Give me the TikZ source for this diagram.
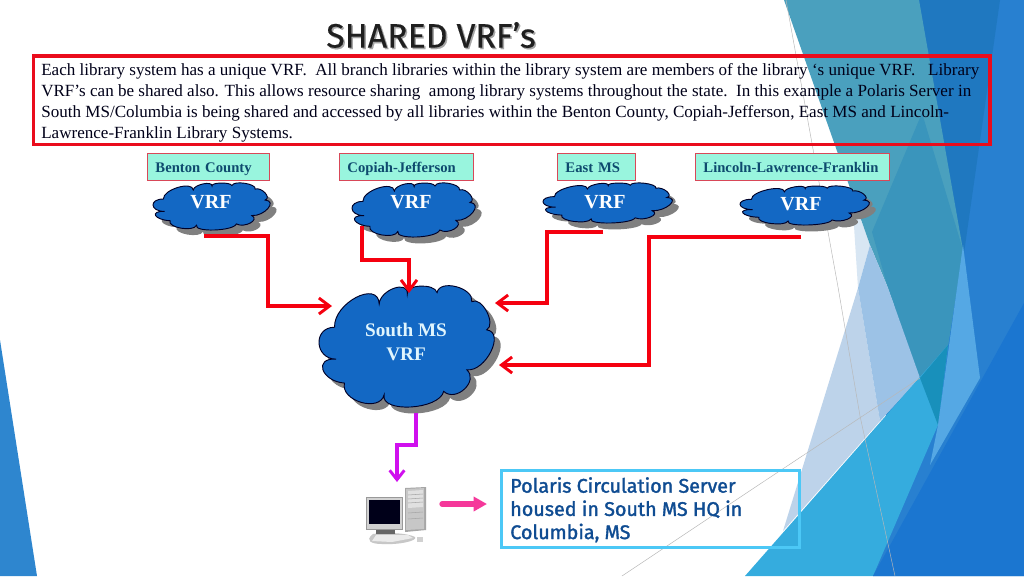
\documentclass[tikz,border=0pt]{standalone}
\usepackage{fontspec}
\setmainfont{Liberation Serif}
\newfontfamily\titlefont[FakeBold=0.3]{Fira Sans}
\newfontfamily\uifont[FakeBold=1.6]{Fira Sans}
\usetikzlibrary{arrows.meta,calc}
\definecolor{cloudblue}{HTML}{1368C4}
\definecolor{labelfill}{HTML}{99F5DE}
\definecolor{labeltext}{HTML}{0E4A6E}
\definecolor{labeledge}{HTML}{D84858}
\definecolor{flowred}{HTML}{F5000F}
\definecolor{boxred}{HTML}{EA0C1C}
\definecolor{flowpurple}{HTML}{D010EE}
\definecolor{flowpink}{HTML}{F5389A}
\definecolor{calloutedge}{HTML}{4CC8F6}
\definecolor{callouttext}{HTML}{0F4C92}
\definecolor{bgleft}{HTML}{2E86CF}
\definecolor{bgteal}{HTML}{4AA0BE}
\definecolor{bgtealb}{HTML}{3A95BC}
\definecolor{bgdeep}{HTML}{1F78C0}
\definecolor{bgright}{HTML}{2880D0}
\definecolor{bgspike}{HTML}{55A8E4}
\definecolor{bgbottom}{HTML}{1B76D0}
\definecolor{bgcyan}{HTML}{35ACDE}
\definecolor{bgcyand}{HTML}{1890BB}
\definecolor{bglight}{HTML}{BDD3EA}
\definecolor{bglightb}{HTML}{9CC2E6}
\definecolor{bgpale}{HTML}{D8E6F3}
\newcommand\cloudoutline{(47,124)
  .. controls (44,51) and (179,-19) .. (182,54)
  .. controls (185,11) and (270,-19) .. (267,24)
  .. controls (260,-5) and (350,-9) .. (357,20)
  .. controls (364,-22) and (469,5) .. (462,47)
  .. controls (492,30) and (537,115) .. (507,132)
  .. controls (564,139) and (504,259) .. (447,252)
  .. controls (484,286) and (414,351) .. (377,317)
  .. controls (364,373) and (184,383) .. (197,327)
  .. controls (184,381) and (64,346) .. (77,292)
  .. controls (7,287) and (-18,215) .. (52,220)
  .. controls (-14,220) and (-19,124) .. (47,124) -- cycle}
\newcommand\bluecloud[4]{%
  \begin{scope}[shift={(#1,#2)},x={0.75pt*(#3-#1)/520},y={-0.75pt*(#4-#2)/364}]
    \path[fill=black!50,xshift=4.8pt,yshift=-4.8pt] \cloudoutline;
    \path[fill=cloudblue,draw=black!85!blue,line width=0.7pt] \cloudoutline;
  \end{scope}}
\tikzset{
  x=0.75pt,y=-0.75pt,
  vrftext/.style={text=white,font=\bfseries\fontsize{15}{17}\selectfont,inner sep=0pt},
  sitebox/.style={draw=labeledge,line width=0.7pt,fill=labelfill,text=labeltext,font=\bfseries\fontsize{11}{13}\selectfont,minimum height=20pt,inner xsep=6pt,inner ysep=0pt,text height=10.5pt,text depth=2.5pt,align=left,anchor=north west},
  redflow/.style={draw=flowred,line width=2.4pt,-{Straight Barb[length=8pt,width=12pt,line width=2.2pt]}},
  purpleflow/.style={draw=flowpurple,line width=2.4pt,-{Straight Barb[length=7pt,width=11pt,line width=2.2pt]}},
  pinkflow/.style={draw=flowpink,line width=4pt,line cap=round,-{Triangle[length=10pt,width=10.5pt]}},
  ghost/.style={draw=black!28,line width=0.35pt},
}
\begin{document}
\begin{tikzpicture}
\useasboundingbox (0,0) rectangle (1024,576);
% background
\fill[white] (0,0) rectangle (1024,576);
\fill[bgleft] (0,340) -- (37,576) -- (0,576) -- cycle;
\fill[bgright] (919,0) -- (1024,0) -- (1024,576) -- (873,576) -- cycle;
\fill[bgdeep] (919,0) -- (1000,0) -- (963,260) -- cycle;
\fill[bgpale] (852,195) -- (870,245) -- (858,288) -- cycle;
\fill[bgteal] (784,0) -- (919,0) -- (963,250) -- (948,345) -- (920,378) -- (888,288) -- (870,245) -- cycle;
\fill[bgtealb] (922,113) -- (963,250) -- (948,345) -- (920,378) -- (888,288) -- (872,232) -- cycle;
\fill[bglight] (858,288) -- (783,531) -- (880,421) -- cycle;
\fill[bglightb] (870,245) -- (888,288) -- (920,378) -- (880,421) -- (858,288) -- cycle;
\fill[bgcyan] (745,576) -- (948,345) -- (938,425) -- (873,576) -- cycle;
\fill[bgcyand] (920,378) -- (948,345) -- (938,425) -- cycle;
\fill[bgspike] (963,245) -- (980,378) -- (930,465) -- (938,425) -- cycle;
\fill[bgbottom] (873,576) -- (1024,303) -- (1024,576) -- cycle;
\draw[ghost] (786,0) -- (838,287) -- (860,416) -- (895,576);
\draw[ghost] (622,576) -- (760,484) -- (920,378);
% title
\node[font=\titlefont\fontsize{25.4}{28}\selectfont,text=black!35,inner sep=0pt] (titleshadow) at (432.5,36.5) {SHARED VRF’s};
\node[font=\titlefont\fontsize{25.4}{28}\selectfont,text=black!88,inner sep=0pt] (title) at (431,35) {SHARED VRF’s};
% description
\node[draw=boxred,line width=2.8pt,minimum width=717.4pt,minimum height=66.5pt,anchor=north west,inner sep=0pt] (desc) at (31.5,54) {};
\node[anchor=north west,inner sep=0pt,align=left,text=black!90!blue,font=\fontsize{12.8}{15.75}\selectfont] (desctext) at (41,63.5)
 {Each library system has a unique VRF.\ \ All branch libraries within the library system are members of the library ‘s unique VRF.\ \ \ Library\\
  VRF’s can be shared also. This allows resource sharing\ \ among library systems throughout the state.\ \ In this example a Polaris Server in\\
  South MS/Columbia is being shared and accessed by all libraries within the Benton County, Copiah-Jefferson, East MS and Lincoln-\\
  Lawrence-Franklin Library Systems.};
% site labels
\node[sitebox,minimum width=91.5pt,text width=79.5pt] (benton) at (147,153) {\mbox{Benton County}};
\node[sitebox,minimum width=100.5pt,text width=88.5pt] (copiah) at (339,153) {\mbox{Copiah-Jefferson}};
\node[sitebox,minimum width=58.5pt,text width=46.5pt] (east) at (557,153) {\mbox{East MS}};
\node[sitebox,minimum width=145.5pt,text width=133.5pt] (lincoln) at (695,153) {\mbox{Lincoln-Lawrence-Franklin}};
% clouds
\bluecloud{153}{183}{268}{230}
\bluecloud{352}{183}{473}{237}
\bluecloud{543}{183}{670}{223}
\bluecloud{740}{186}{867}{225}
\bluecloud{319}{286}{491}{407}
\node[vrftext] (c1t) at (211,202) {VRF};
\node[vrftext] (c2t) at (411,202) {VRF};
\node[vrftext] (c3t) at (605,202) {VRF};
\node[vrftext] (c4t) at (801,204) {VRF};
\node[text=white!88!cyan,font=\bfseries\fontsize{14.4}{17.5}\selectfont,align=center,inner sep=0pt] (southt) at (406,342) {South MS\\VRF};
% connectors
\coordinate (s1) at (204,236); \coordinate (e1) at (332,306);
\coordinate (s2) at (362,226); \coordinate (e2) at (409,293);
\coordinate (s3) at (603,232); \coordinate (e3) at (495,303);
\coordinate (s4) at (801,237); \coordinate (e4) at (499,365);
\draw[redflow] (s1) -- (268,236) -- (268,306) -- (e1);
\draw[redflow] (s2) -- (362,260) -- (409,260) -- (e2);
\draw[redflow] (s3) -- (547,232) -- (547,303) -- (e3);
\draw[redflow] (s4) -- (649,237) -- (649,365) -- (e4);
\coordinate (s5) at (416,413); \coordinate (e5) at (397,482);
\draw[purpleflow] (s5) -- (416,445) -- (397,445) -- (e5);
% computer
\fill[black!35] (405,488) -- (426,487) -- (426,530) -- (405,532) -- cycle;
\fill[black!22] (406,489) -- (424,488) -- (424,529) -- (406,530) -- cycle;
\fill[black!12] (408,491) -- (423,490) -- (423,507) -- (408,508) -- cycle;
\draw[black!35,line width=0.4pt] (408,495) -- (423,494) (408,499) -- (423,498) (408,503) -- (423,502) (408,513) -- (423,512) (408,519) -- (423,518);
\fill[black!22] (373,534) .. controls (385,532) and (408,533) .. (415,537) .. controls (418,541) and (398,545) .. (382,544) .. controls (372,544) and (364,541) .. (373,534) -- cycle;
\fill[black!8] (376,535) -- (408,535) -- (413,538) -- (392,542) -- (372,541) -- cycle;
\fill[black!18] (417,537) rectangle (423,542);
\fill[black!40] (366,497) rectangle (403,530);
\fill[black!18] (367,498) rectangle (402,529);
\fill[black!90!blue] (369,500) rectangle (400,524);
\fill[black!60] (376,530) rectangle (395,534);
% pink arrow and callout
\node[draw=calloutedge,line width=2.6pt,minimum width=223.5pt,minimum height=57.75pt,anchor=north west,inner sep=0pt] (callout) at (499.8,468.8) {};
\node[anchor=north west,inner sep=0pt,align=left,text=callouttext,font=\uifont\fontsize{14.8}{17.4}\selectfont] (callouttxt) at (510,477)
 {Polaris Circulation Server\\housed in South MS HQ in\\Columbia, MS};
\coordinate (s6) at (442,504);
\coordinate (e6) at (487,504);
\draw[pinkflow] (s6) -- (e6);
\end{tikzpicture}
\end{document}
